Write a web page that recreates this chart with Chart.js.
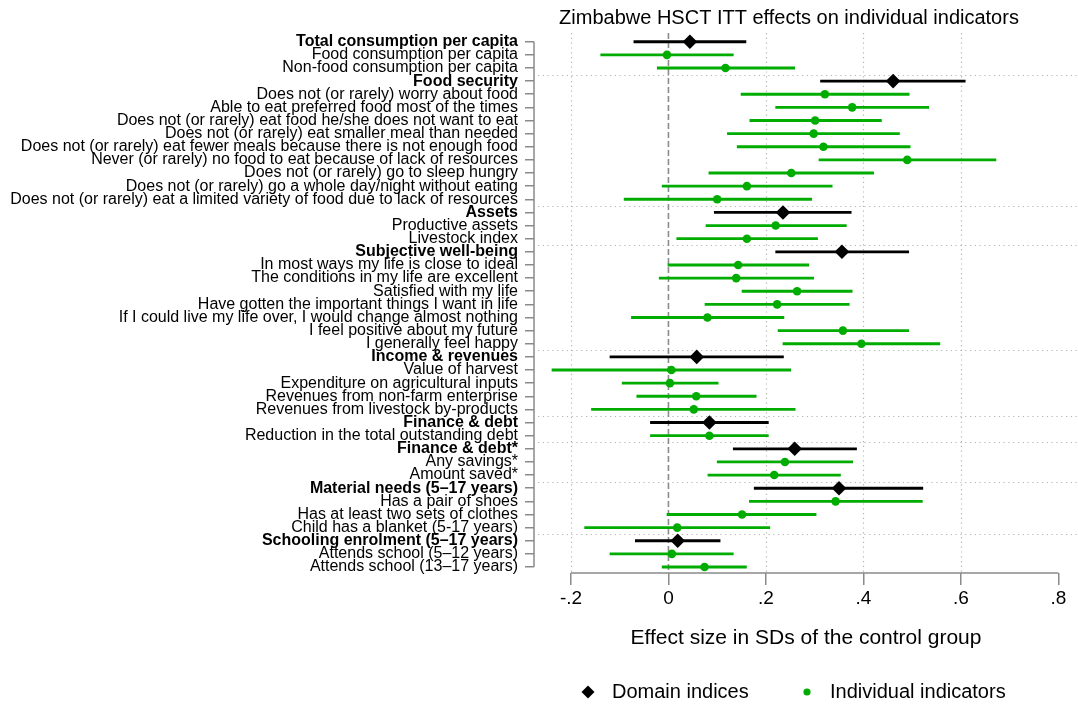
<!DOCTYPE html>
<html>
<head>
<meta charset="utf-8">
<title>Zimbabwe HSCT ITT effects on individual indicators</title>
<script src="https://cdn.jsdelivr.net/npm/chart.js@4.4.1/dist/chart.umd.min.js"></script>
<style>
  html, body { margin: 0; padding: 0; background: #fff; }
  canvas { display: block; }
</style>
</head>
<body>
<canvas id="chart" width="1078" height="705"></canvas>
<script>
// rows top to bottom
const labels = [
    'Total consumption per capita',
    'Food consumption per capita',
    'Non-food consumption per capita',
    'Food security',
    'Does not (or rarely) worry about food',
    'Able to eat preferred food most of the times',
    'Does not (or rarely) eat food he/she does not want to eat',
    'Does not (or rarely) eat smaller meal than needed',
    'Does not (or rarely) eat fewer meals because there is not enough food',
    'Never (or rarely) no food to eat because of lack of resources',
    'Does not (or rarely) go to sleep hungry',
    'Does not (or rarely) go a whole day/night without eating',
    'Does not (or rarely) eat a limited variety of food due to lack of resources',
    'Assets',
    'Productive assets',
    'Livestock index',
    'Subjective well-being',
    'In most ways my life is close to ideal',
    'The conditions in my life are excellent',
    'Satisfied with my life',
    'Have gotten the important things I want in life',
    'If I could live my life over, I would change almost nothing',
    'I feel positive about my future',
    'I generally feel happy',
    'Income & revenues',
    'Value of harvest',
    'Expenditure on agricultural inputs',
    'Revenues from non-farm enterprise',
    'Revenues from livestock by-products',
    'Finance & debt',
    'Reduction in the total outstanding debt',
    'Finance & debt*',
    'Any savings*',
    'Amount saved*',
    'Material needs (5\u201317 years)',
    'Has a pair of shoes',
    'Has at least two sets of clothes',
    'Child has a blanket (5-17 years)',
    'Schooling enrolment (5\u201317 years)',
    'Attends school (5\u201312 years)',
    'Attends school (13\u201317 years)'
];
// 1 = domain index (bold label, black diamond)
const domainRow = [1,0,0,1,0,0,0,0,0,0,0,0,0,1,0,0,1,0,0,0,0,0,0,0,1,0,0,0,0,1,0,1,0,0,1,0,0,0,1,0,0];
const estimates = [0.044, -0.003, 0.117, 0.461, 0.321, 0.377, 0.301, 0.298, 0.318, 0.490, 0.252, 0.161, 0.100,
    0.235, 0.220, 0.161, 0.356, 0.143, 0.139, 0.264, 0.223, 0.080, 0.358, 0.396,
    0.058, 0.006, 0.003, 0.057, 0.052, 0.084, 0.084, 0.259, 0.239, 0.217,
    0.350, 0.343, 0.151, 0.018, 0.019, 0.007, 0.074];
const ciLow = [-0.071, -0.139, -0.023, 0.312, 0.149, 0.220, 0.167, 0.121, 0.141, 0.309, 0.083, -0.013, -0.091,
    0.094, 0.077, 0.017, 0.220, -0.001, -0.019, 0.151, 0.075, -0.076, 0.225, 0.235,
    -0.120, -0.239, -0.095, -0.065, -0.158, -0.037, -0.037, 0.133, 0.100, 0.081,
    0.176, 0.166, -0.003, -0.172, -0.068, -0.120, -0.013];
const ciHigh = [0.159, 0.133, 0.259, 0.609, 0.494, 0.534, 0.437, 0.474, 0.496, 0.672, 0.421, 0.336, 0.294,
    0.375, 0.365, 0.306, 0.493, 0.288, 0.298, 0.377, 0.371, 0.237, 0.493, 0.557,
    0.236, 0.251, 0.102, 0.180, 0.260, 0.205, 0.205, 0.386, 0.378, 0.353,
    0.522, 0.521, 0.303, 0.208, 0.106, 0.133, 0.160];
const xTicks = [-0.2, 0, 0.2, 0.4, 0.6, 0.8];
const xGrid = [-0.2, 0.2, 0.4, 0.6];
const legendLabels = ['Domain indices', 'Individual indicators'];
const titleText = 'Zimbabwe HSCT ITT effects on individual indicators';
const xTitle = 'Effect size in SDs of the control group';

const FONT = '"Liberation Sans", Arial, Helvetica, sans-serif';
const GREEN = 'rgb(0,172,0)';
const AXIS = '#8a8a8a';
const rows = labels.map((_, i) => i + 1);

const domainPoints = rows.filter(r => domainRow[r - 1]).map(r => ({ x: estimates[r - 1], y: r }));
const itemPoints = rows.filter(r => !domainRow[r - 1]).map(r => ({ x: estimates[r - 1], y: r }));
const ciBars = rows.map(r => ({ x: [ciLow[r - 1], ciHigh[r - 1]], y: r }));
const ciColors = rows.map(r => domainRow[r - 1] ? '#000' : GREEN);

function fmtTick(v) {
    if (v === 0) return '0';
    return (v < 0 ? '-' : '') + String(Math.abs(v)).replace(/^0/, '');
}

// dotted grid, zero line, group separators and stata style axis lines
const frame = {
    id: 'frame',
    beforeDatasetsDraw(chart) {
        const { ctx, chartArea: area, scales: { x, y } } = chart;
        ctx.save();
        ctx.lineWidth = 1.2;
        ctx.strokeStyle = '#b4b4b4';
        ctx.setLineDash([1.2, 3.6]);
        xGrid.forEach(v => {
            const px = Math.round(x.getPixelForValue(v)) + 0.5;
            ctx.beginPath(); ctx.moveTo(px, area.top); ctx.lineTo(px, area.bottom); ctx.stroke();
        });
        rows.forEach(r => {
            if (r > 1 && domainRow[r - 1]) {
                const py = Math.round(y.getPixelForValue(r - 0.5)) + 0.5;
                ctx.beginPath(); ctx.moveTo(area.left + 4, py); ctx.lineTo(area.right, py); ctx.stroke();
            }
        });
        // zero line
        ctx.strokeStyle = '#8c8c8c';
        ctx.lineWidth = 1.6;
        ctx.setLineDash([6, 3]);
        const zx = x.getPixelForValue(0);
        ctx.beginPath(); ctx.moveTo(zx, area.top); ctx.lineTo(zx, area.bottom); ctx.stroke();
        // axis lines
        ctx.setLineDash([]);
        ctx.strokeStyle = AXIS;
        ctx.lineWidth = 1.5;
        ctx.beginPath();
        ctx.moveTo(area.left, y.getPixelForValue(rows[0]));
        ctx.lineTo(area.left, y.getPixelForValue(rows[rows.length - 1]));
        ctx.stroke();
        ctx.beginPath();
        ctx.moveTo(x.getPixelForValue(xTicks[0]), area.bottom);
        ctx.lineTo(x.getPixelForValue(xTicks[xTicks.length - 1]), area.bottom);
        ctx.stroke();
        ctx.restore();
    },
    afterDraw(chart) {
        const { ctx, chartArea: area } = chart;
        ctx.save();
        ctx.fillStyle = '#000';
        ctx.textAlign = 'center';
        ctx.textBaseline = 'alphabetic';
        ctx.font = '20px ' + FONT;
        ctx.fillText(titleText, 789, 24);
        ctx.font = '21px ' + FONT;
        ctx.fillText(xTitle, (area.left + area.right) / 2, 644);
        // legend
        const ly = 692;
        ctx.beginPath();
        ctx.moveTo(588, ly - 6.5); ctx.lineTo(594.5, ly); ctx.lineTo(588, ly + 6.5); ctx.lineTo(581.5, ly);
        ctx.closePath(); ctx.fill();
        ctx.fillStyle = GREEN;
        ctx.beginPath(); ctx.arc(807, ly, 3.6, 0, Math.PI * 2); ctx.fill();
        ctx.fillStyle = '#000';
        ctx.textAlign = 'left';
        ctx.font = '20px ' + FONT;
        ctx.fillText(legendLabels[0], 612, 698);
        ctx.fillText(legendLabels[1], 830, 698);
        ctx.restore();
    }
};

new Chart(document.getElementById('chart'), {
    type: 'bar',
    data: {
        datasets: [
            { type: 'scatter', label: legendLabels[0], data: domainPoints, pointStyle: 'rectRot', pointRadius: 7.3, pointHoverRadius: 7.3, backgroundColor: '#000', borderWidth: 0, order: 0 },
            { type: 'scatter', label: legendLabels[1], data: itemPoints, pointStyle: 'circle', pointRadius: 4.3, pointHoverRadius: 4.3, backgroundColor: GREEN, borderWidth: 0, order: 1 },
            { type: 'bar', label: 'CI', indexAxis: 'y', data: ciBars, backgroundColor: ciColors, barThickness: 2.2, borderWidth: 0, order: 2 }
        ]
    },
    options: {
        responsive: false,
        animation: false,
        layout: { autoPadding: false, padding: { top: 33, left: 0, right: 0, bottom: 0 } },
        scales: {
            x: {
                type: 'linear', position: 'bottom', min: -0.2759, max: 0.8404, offset: false, grace: 0, beginAtZero: false,
                afterBuildTicks: s => { s.ticks = xTicks.map(v => ({ value: v })); },
                afterFit: s => { s.height = 132; },
                grid: { display: true, offset: false, drawOnChartArea: false, drawTicks: true, tickLength: 12, color: AXIS, lineWidth: 1.5 },
                border: { display: false },
                ticks: { padding: 2, color: '#000', maxRotation: 0, autoSkip: false, callback: v => fmtTick(v), font: { family: FONT, size: 19 } }
            },
            y: {
                type: 'linear', position: 'left', reverse: true, min: 0.337, max: 41.457, offset: false, grace: 0, beginAtZero: false,
                afterBuildTicks: s => { s.ticks = rows.map(v => ({ value: v })); },
                afterFit: s => { s.width = 534; },
                grid: { display: true, offset: false, drawOnChartArea: false, drawTicks: true, tickLength: 9, color: AXIS, lineWidth: 1.5 },
                border: { display: false },
                ticks: {
                    autoSkip: false, padding: 7, color: '#000',
                    callback: v => labels[v - 1],
                    font: ctx => ({ family: FONT, size: 16, lineHeight: 1, weight: domainRow[ctx.index] ? 'bold' : 'normal' })
                }
            }
        },
        plugins: {
            legend: { display: false },
            title: { display: false },
            tooltip: { enabled: false }
        }
    },
    plugins: [frame]
});
</script>
</body>
</html>
